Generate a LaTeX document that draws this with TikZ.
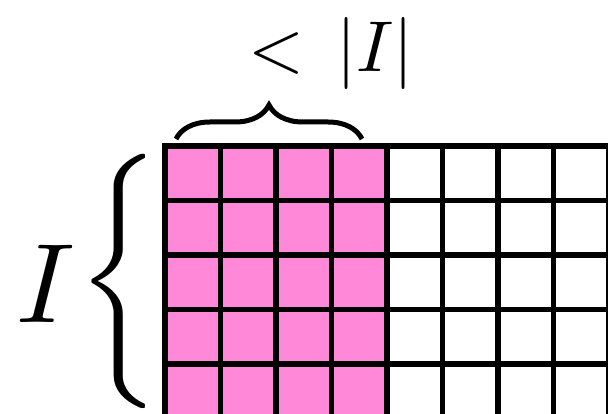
\documentclass[tikz,border=0pt]{standalone}
\usetikzlibrary{decorations.pathreplacing}
\definecolor{cellpink}{RGB}{255,137,216}
\begin{document}
\begin{tikzpicture}[x=1pt,y=-1pt,
  gridline/.style={line width=5.5pt},
  bigtext/.style={inner sep=0pt, outer sep=0pt}]
\useasboundingbox (0,0) rectangle (608,414);
\begin{scope}
\clip (0,0) rectangle (608,414);
\fill[cellpink] (165,146) rectangle (387,420);
\foreach \i in {0,...,8} \draw[gridline] ({165+55.5*\i},143.25) -- ({165+55.5*\i},422);
\foreach \j in {0,...,5} \draw[gridline] (162.25,{146+54.5*\j}) -- (612,{146+54.5*\j});
\end{scope}
\coordinate (bl) at (176,139);
\coordinate (br) at (362,139);
\draw[decorate, decoration={brace, amplitude=34pt}, line width=5pt] (bl) -- (br);
\node[bigtext, anchor=base, scale=7.2] (lbl) at (331,72) {$<\,|I|$};
\node[bigtext, anchor=base, scale=11.3] (rows) at (46,322) {$I$};
\node[bigtext, xscale=11, yscale=10.6] (lbrace) at (125.5,281.5) {$\left\{\vcenter{\hrule height 12.5pt depth 12.5pt width 0pt}\right.$};
\end{tikzpicture}
\end{document}
